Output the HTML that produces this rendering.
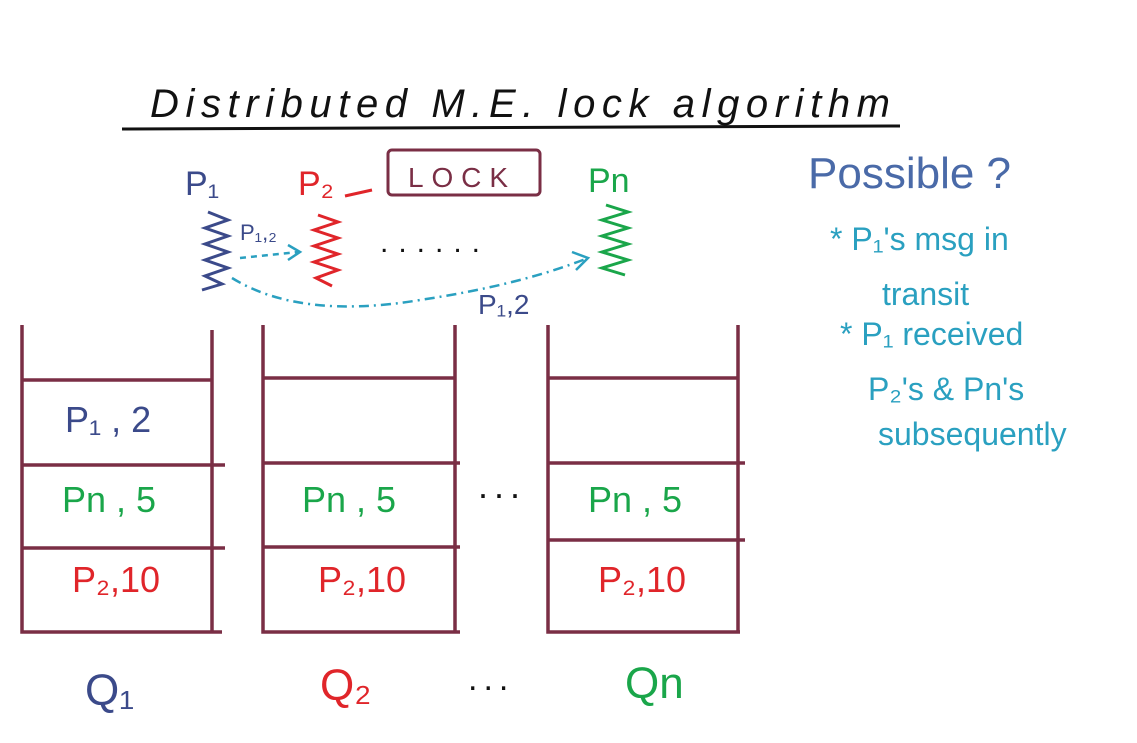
<!DOCTYPE html>
<html><head><meta charset="utf-8"><style>
html,body{margin:0;padding:0;background:#fff;}
svg{display:block;}
text{font-family:"Liberation Sans",sans-serif;}
</style></head><body>
<svg width="1137" height="743" viewBox="0 0 1137 743">
<g>
<text x="150" y="117" font-size="40" fill="#111" font-style="italic" textLength="740">Distributed M.E. lock algorithm</text>
<path d="M122 129 L900 126" stroke="#111" stroke-width="3" fill="none"/>
</g>
<g>
<text x="185" y="195" font-size="34" fill="#3b4a8a">P₁</text>
<text x="298" y="195" font-size="34" fill="#e0252a">P₂</text>
<path d="M345 196 L372 190" stroke="#e0252a" stroke-width="3"/>
<rect x="388" y="150" width="152" height="45" rx="4" fill="none" stroke="#7a2e45" stroke-width="3"/>
<text x="408" y="187" font-size="28" fill="#7a2e45" textLength="100">LOCK</text>
<text x="588" y="192" font-size="34" fill="#1aa64a">Pn</text>
<path d="M208 212 L228 220 L205 228 L228 236 L205 244 L228 252 L205 260 L228 268 L205 276 L222 284 L202 290" stroke="#3b4a8a" stroke-width="3" fill="none"/>
<path d="M318 215 L338 222 L314 230 L338 238 L314 246 L338 254 L314 262 L338 270 L316 278 L332 286" stroke="#e0252a" stroke-width="3" fill="none"/>
<path d="M606 205 L628 212 L602 220 L628 228 L602 236 L628 244 L602 252 L628 260 L602 268 L625 275" stroke="#1aa64a" stroke-width="3" fill="none"/>
<text x="240" y="240" font-size="22" fill="#3b4a8a">P₁,₂</text>
<path d="M240 258 L298 252" stroke="#2aa0c0" stroke-width="2.5" stroke-dasharray="6 5" fill="none"/>
<path d="M288 245 L300 252 L288 260" stroke="#2aa0c0" stroke-width="2.5" fill="none"/>
<path d="M232 278 Q300 320 420 300 Q520 285 588 258" stroke="#2aa0c0" stroke-width="2.5" stroke-dasharray="10 5 2 5" fill="none"/>
<path d="M572 252 L588 258 L576 270" stroke="#2aa0c0" stroke-width="2.5" fill="none"/>
<text x="380" y="252" font-size="30" fill="#111" letter-spacing="10">......</text>
<text x="478" y="314" font-size="28" fill="#3b4a8a">P₁,2</text>
</g>
<g stroke="#7a2e45" stroke-width="3.5" fill="none">
<path d="M22 325 L22 632 L222 632 M212 330 L212 632 M22 380 L212 380 M22 465 L225 465 M22 548 L225 548"/>
<path d="M263 325 L263 632 L460 632 M455 325 L455 632 M263 378 L455 378 M263 463 L460 463 M263 547 L460 547"/>
<path d="M548 325 L548 632 L740 632 M738 325 L738 632 M548 378 L738 378 M548 463 L745 463 M548 540 L745 540"/>
</g>
<g font-size="36">
<text x="65" y="432" fill="#3b4a8a">P₁ , 2</text>
<text x="62" y="512" fill="#1aa64a">Pn , 5</text>
<text x="72" y="592" fill="#e0252a">P₂,10</text>
<text x="302" y="512" fill="#1aa64a">Pn , 5</text>
<text x="318" y="592" fill="#e0252a">P₂,10</text>
<text x="588" y="512" fill="#1aa64a">Pn , 5</text>
<text x="598" y="592" fill="#e0252a">P₂,10</text>
<text x="478" y="498" fill="#111" letter-spacing="6">...</text>
</g>
<g font-size="44">
<text x="85" y="705" fill="#3b4a8a">Q₁</text>
<text x="320" y="700" fill="#e0252a">Q₂</text>
<text x="468" y="690" font-size="34" fill="#111" letter-spacing="6">...</text>
<text x="625" y="698" fill="#1aa64a">Qn</text>
</g>
<g>
<text x="808" y="188" font-size="44" fill="#4a6aa8">Possible ?</text>
<text x="830" y="250" font-size="32" fill="#2aa0c0">* P₁'s msg in</text>
<text x="882" y="305" font-size="32" fill="#2aa0c0">transit</text>
<text x="840" y="345" font-size="32" fill="#2aa0c0">* P₁ received</text>
<text x="868" y="400" font-size="32" fill="#2aa0c0">P₂'s &amp; Pn's</text>
<text x="878" y="445" font-size="32" fill="#2aa0c0">subsequently</text>
</g>
</svg>
</body></html>
